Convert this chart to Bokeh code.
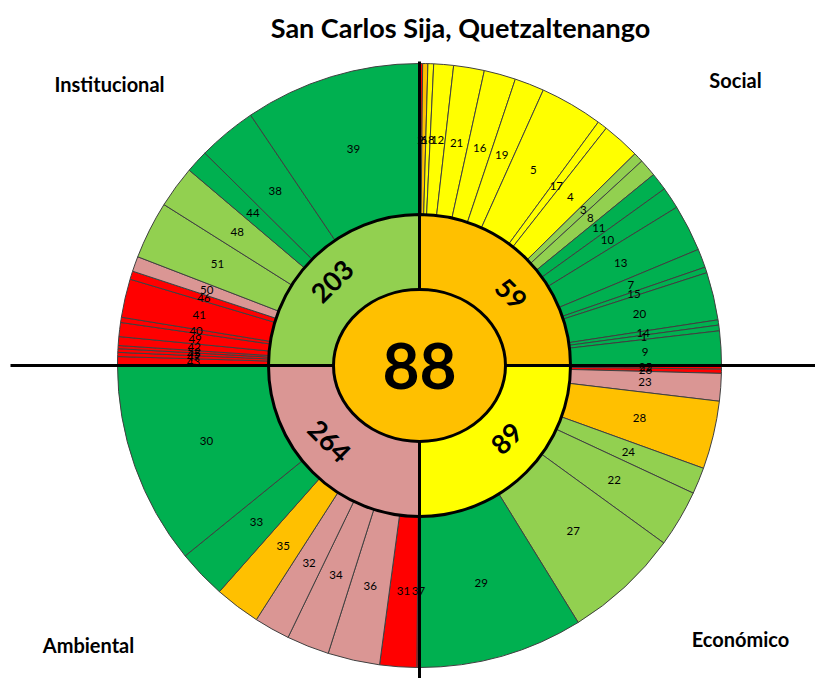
import numpy as np
from bokeh.plotting import figure
from bokeh.models import Range1d, ColumnDataSource, Label
from bokeh.embed import file_html
from bokeh.resources import INLINE
from bokeh.core.properties import value

# ---------------- data ----------------
title = "San Carlos Sija, Quetzaltenango"
center_value = 88
dims = ["Social", "Económico", "Ambiental", "Institucional"]
dim_values = [59, 89, 264, 203]
dim_colors = ["naranja", "amarillo", "rosa", "verde claro"]

social_ids = ["2", "6", "18", "12", "21", "16", "19", "5", "17", "4", "3", "8",
              "11", "10", "13", "7", "15", "20", "14", "1", "9"]
social_vals = [0.6, 1.0, 1.1, 3.8, 5.9, 6.1, 5.7, 12.1, 1.9, 7.3, 1.9, 3.4,
               3.4, 4.2, 9.0, 3.6, 1.1, 9.2, 1.0, 1.1, 6.6]
social_cols = ["rojo", "naranja", "amarillo", "amarillo", "amarillo", "amarillo",
               "amarillo", "amarillo", "amarillo", "amarillo", "verde claro",
               "verde claro", "verde", "verde", "verde", "verde", "verde",
               "verde", "verde", "verde", "verde"]

econ_ids = ["25", "26", "23", "28", "24", "22", "27", "29"]
econ_vals = [0.7, 0.8, 5.3, 13.1, 5.1, 11.0, 22.3, 31.7]
econ_cols = ["rojo", "rojo", "rosa", "naranja", "verde claro", "verde claro",
             "verde claro", "verde"]

amb_ids = ["37", "31", "36", "34", "32", "35", "33", "30"]
amb_vals = [0.5, 7.1, 10.0, 8.2, 6.9, 8.8, 9.4, 39.1]
amb_cols = ["rojo", "rojo", "rosa", "rosa", "rosa", "naranja", "verde", "verde"]

inst_ids = ["43", "47", "45", "52", "42", "49", "40", "41", "46", "50", "51",
            "48", "44", "38", "39"]
inst_vals = [1.7, 0.8, 0.7, 0.6, 1.7, 2.7, 1.0, 7.4, 1.6, 2.9, 11.1, 8.1, 4.4,
             11.3, 34.0]
inst_cols = ["rojo", "rojo", "rojo", "rojo", "rojo", "rojo", "rojo", "rojo",
             "rojo", "rosa", "verde claro", "verde claro", "verde", "verde",
             "verde"]

palette = {"verde": "#00B050", "verde claro": "#92D050", "amarillo": "#FFFF00",
           "naranja": "#FFC000", "rosa": "#DA9694", "rojo": "#FF0000"}

# ---------------- layout ----------------
W, H = 815, 678
CX, CY = 419, 365          # centre in figure pixels
R_OUT, R_MID = 302, 151
ELL_W, ELL_H = 172, 152
LABEL_R = 226
dim_label_bearing = [52, 130, 230, 314]
dim_label_r = [116, 114, 118, 121]
dim_label_rot = [-45, 45, -45, 45]

p = figure(width=W, height=H, output_backend="svg", toolbar_location=None,
           x_range=Range1d(-CX, W - CX), y_range=Range1d(-(H - CY), CY),
           x_axis_type=None, y_axis_type=None, min_border=0)
p.grid.visible = False
p.outline_line_color = None
p.background_fill_color = "white"

def to_math(bearing_deg):
    return np.radians(90.0 - np.asarray(bearing_deg, dtype=float))

# outer ring
quadrants = [(social_ids, social_vals, social_cols),
             (econ_ids, econ_vals, econ_cols),
             (amb_ids, amb_vals, amb_cols),
             (inst_ids, inst_vals, inst_cols)]
ids, b0s, b1s, cols = [], [], [], []
for q, (qi, qv, qc) in enumerate(quadrants):
    v = np.asarray(qv, dtype=float)
    cum = np.concatenate([[0.0], np.cumsum(v)]) / v.sum() * 90.0 + q * 90.0
    ids += qi
    b0s += list(cum[:-1])
    b1s += list(cum[1:])
    cols += [palette[c] for c in qc]
b0s = np.array(b0s); b1s = np.array(b1s)
mid = (b0s + b1s) / 2
outer = ColumnDataSource(dict(
    start=to_math(b1s), end=to_math(b0s), color=cols, ids=ids,
    lx=LABEL_R * np.sin(np.radians(mid)), ly=LABEL_R * np.cos(np.radians(mid))))
p.annular_wedge(x=0, y=0, inner_radius=R_MID, outer_radius=R_OUT,
                start_angle="start", end_angle="end", fill_color="color",
                line_color="#404040", line_width=1, source=outer)

# inner ring
qb0 = np.arange(4) * 90.0
inner = ColumnDataSource(dict(start=to_math(qb0 + 90), end=to_math(qb0),
                              color=[palette[c] for c in dim_colors]))
p.wedge(x=0, y=0, radius=R_MID, start_angle="start", end_angle="end",
        fill_color="color", line_color="black", line_width=3, source=inner)

# axis cross lines
p.segment(x0=[-CX + 10, 0], y0=[0, R_OUT + 2], x1=[W - CX, 0], y1=[0, -(H - CY)],
          line_color="black", line_width=3)

# centre ellipse
p.ellipse(x=0, y=0, width=ELL_W, height=ELL_H, fill_color=palette["naranja"],
          line_color="black", line_width=3)

# labels
p.text(x="lx", y="ly", text="ids", source=outer, text_font=value("Lato"),
       text_font_size="11.5px", text_align="center", text_baseline="middle",
       text_color="black")

lb = np.radians(dim_label_bearing)
dl = ColumnDataSource(dict(
    x=np.array(dim_label_r) * np.sin(lb), y=np.array(dim_label_r) * np.cos(lb),
    t=[str(v) for v in dim_values], a=np.radians(dim_label_rot)))
p.text(x="x", y="y", text="t", angle="a", source=dl, text_font=value("Lato"),
       text_font_style="bold", text_font_size="27px", text_align="center",
       text_baseline="middle", text_color="black")

p.text(x=[0], y=[0], text=[str(center_value)], text_font=value("Lato"),
       text_font_style="bold", text_font_size="64px", text_align="center",
       text_baseline="middle", text_color="black")

p.add_layout(Label(x=41, y=338, text=title, text_font="Lato",
                   text_font_style="bold", text_font_size="27px",
                   text_color="black", text_align="center",
                   text_baseline="middle"))

quad_label_x = [316, 321, -331, -310]
quad_label_y = [286, -273, -279, 282]
for name, qx, qy in zip(dims, quad_label_x, quad_label_y):
    p.add_layout(Label(x=qx, y=qy, text=name, text_font="Lato",
                       text_font_style="bold", text_font_size="20px",
                       text_color="black", text_align="center",
                       text_baseline="middle"))

open("out.html", "w").write(file_html(p, INLINE))
